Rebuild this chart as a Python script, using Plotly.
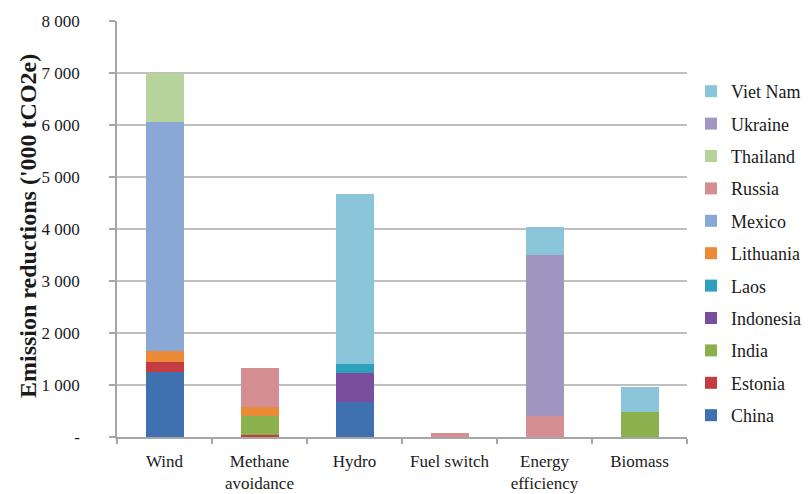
import plotly.graph_objects as go

# Project types on the x axis
categories = ["Wind", "Methane<br>avoidance", "Hydro", "Fuel switch",
              "Energy<br>efficiency", "Biomass"]

# Emission reductions ('000 tCO2e) by host country, per project type
china     = [1250, 0, 680, 0, 0, 0]
estonia   = [200, 40, 0, 0, 0, 0]
india     = [0, 360, 0, 0, 0, 490]
indonesia = [0, 0, 560, 0, 0, 0]
laos      = [0, 0, 160, 0, 0, 0]
lithuania = [200, 170, 0, 0, 0, 0]
mexico    = [4400, 0, 0, 0, 0, 0]
russia    = [0, 760, 0, 75, 400, 0]
thailand  = [950, 0, 0, 0, 0, 0]
ukraine   = [0, 0, 0, 0, 3100, 0]
viet_nam  = [0, 0, 3280, 0, 530, 480]

y_tickvals = [0, 1000, 2000, 3000, 4000, 5000, 6000, 7000, 8000]
y_ticktext = ["-", "1 000", "2 000", "3 000", "4 000", "5 000", "6 000", "7 000", "8 000"]

series = [
    ("China", china, "#3F70B0"),
    ("Estonia", estonia, "#C43C3F"),
    ("India", india, "#8BB04E"),
    ("Indonesia", indonesia, "#7B4D9D"),
    ("Laos", laos, "#2EA0BD"),
    ("Lithuania", lithuania, "#EB8B38"),
    ("Mexico", mexico, "#8AA8D6"),
    ("Russia", russia, "#D58F93"),
    ("Thailand", thailand, "#B5D39A"),
    ("Ukraine", ukraine, "#A196C2"),
    ("Viet Nam", viet_nam, "#8AC5DA"),
]

FONT = "Liberation Serif, Times New Roman, serif"

fig = go.Figure()
for i, (name, vals, color) in enumerate(series):
    fig.add_trace(go.Bar(
        name=name, x=categories, y=vals,
        marker=dict(color=color, line=dict(width=0)),
        width=0.4, legendgroup=name,
        legendrank=1000 - i,  # top of the stack listed first
    ))

fig.update_layout(
    width=808, height=494,
    barmode="stack",
    paper_bgcolor="white", plot_bgcolor="white",
    margin=dict(l=117, r=121, t=21, b=57, autoexpand=False),
    font=dict(family=FONT, color="#1a1a1a", size=17),
    showlegend=True,
    legend=dict(
        x=(691 - 117) / 570, xanchor="left",
        y=(437 - 73) / 416, yanchor="top",
        traceorder="grouped",
        tracegroupgap=6,
        font=dict(family=FONT, size=18, color="#1a1a1a"),
        bgcolor="rgba(0,0,0,0)",
    ),
    annotations=[dict(
        text="<b>Emission reductions ('000 tCO2e)</b>",
        textangle=-90,
        xref="paper", yref="paper",
        x=(28 - 117) / 570, y=(437 - 226) / 416,
        xanchor="center", yanchor="middle",
        showarrow=False,
        font=dict(family=FONT, size=24, color="#1a1a1a"),
    )],
)

fig.update_yaxes(
    range=[0, 8000],
    tickvals=y_tickvals, ticktext=y_ticktext,
    showgrid=True, gridcolor="#C0C0C0", gridwidth=1.5,
    showline=True, linecolor="#A6A6A6", linewidth=1.5,
    ticks="outside", ticklen=6, tickcolor="#A6A6A6", tickwidth=1.5,
    ticklabelstandoff=26,
    tickfont=dict(family=FONT, size=17, color="#1a1a1a"),
    zeroline=False, automargin=False,
)

fig.update_xaxes(
    showline=True, linecolor="#A6A6A6", linewidth=1.5,
    ticks="outside", tickson="boundaries", ticklen=5,
    tickcolor="#A6A6A6", tickwidth=1.5,
    ticklabelstandoff=8,
    tickfont=dict(family=FONT, size=17, color="#1a1a1a"),
    showgrid=False, automargin=False,
)

fig.write_html("out.html")
